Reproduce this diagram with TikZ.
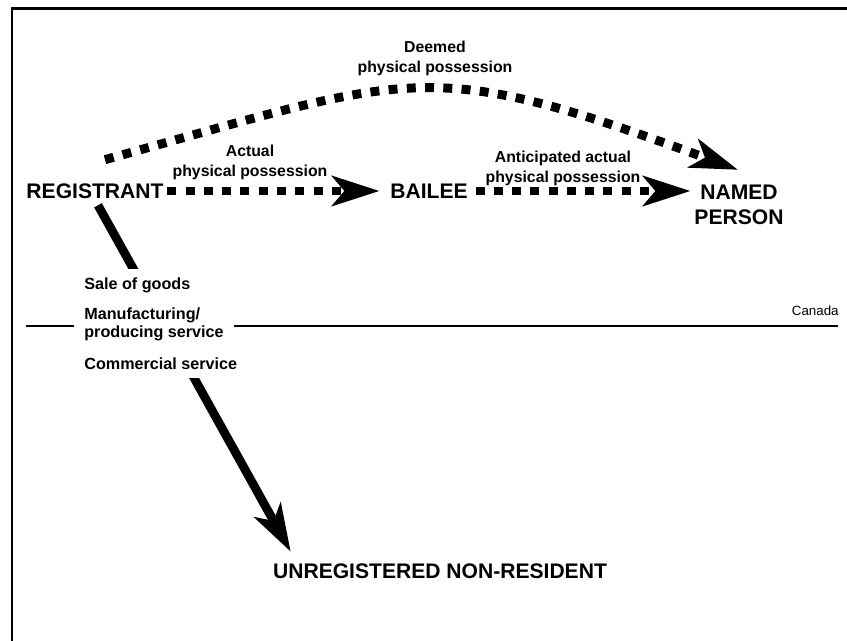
\documentclass[tikz,border=0pt]{standalone}
\usepackage{fontspec}
\setmainfont{Liberation Sans}
\usepackage{tikz}
\usetikzlibrary{arrows.meta,positioning,fit,backgrounds}

\begin{document}
\begin{tikzpicture}[
  x=0.02cm, y=-0.02cm,
  party/.style={font=\bfseries\fontsize{12}{14.2}\selectfont, align=center, inner sep=2pt},
  note/.style={font=\bfseries\fontsize{9}{11.4}\selectfont, align=center, inner sep=0pt},
  supply/.style={font=\bfseries\fontsize{9.2}{10.2}\selectfont, align=left, inner sep=0pt},
  possess/.style={line width=5.1pt, line cap=butt, dash pattern=on 5.1pt off 5.3pt,
    -{Stealth[length=27pt,width=17pt,inset=7pt]}},
  thrust/.style={line width=5pt, line cap=butt, -{Stealth[length=27pt,width=17pt,inset=7pt]}},
  border/.style={line width=0.6pt}
]
\useasboundingbox (0,0) rectangle (847,641);
\draw[line width=1.7pt] (12,641) -- (12,8.7) -- (847,8.7);

% parties
\node[party] (registrant) at (95,191) {REGISTRANT};
\node[party] (bailee) at (429,191) {BAILEE};
\node[party] (named) at (739,205) {NAMED\\PERSON};
\node[party] (unreg) at (440,571) {UNREGISTERED NON-RESIDENT};

% arrow labels
\node[note] (actual) at (250,162) {Actual\\physical possession};
\node[note] (deemed) at (435,58) {Deemed\\physical possession};
\node[note] (anticip) at (563,168) {Anticipated actual\\physical possession};

% supplies
\node[supply, anchor=base west] (sale) at (84,290) {Sale of goods};
\node[supply, anchor=west, inner xsep=5.7pt] (mfg) at (74,324) {Manufacturing/\\producing service};
\node[supply, anchor=base west] (comm) at (84,369) {Commercial service};

% Canada line
\coordinate (borderW) at (26,326);
\coordinate (borderE) at (838,326);
\draw[border] (borderW) -- (borderW -| mfg.west);
\draw[border] (mfg.east |- borderE) -- (borderE);
\node[font=\fontsize{7.6}{9}\selectfont, anchor=base east, inner sep=0pt] (canada) at (839,316) {Canada};

% possession arrows
\coordinate (deemedfrom) at ([shift={(10,-20)}]registrant.north);
\coordinate (deemedto) at ([shift={(-1,-11.5)}]named.north);
\draw[possess] (deemedfrom) .. controls (417,73) and (426,55) .. (deemedto);
\draw[possess, shorten >=3.9pt] (registrant.east) -- (bailee.west);
\draw[possess, shorten <=2.3pt] (bailee.east) -- (bailee.east -| named.west);

% supply to non-resident
\coordinate (regfoot) at ([shift={(3,3)}]registrant.south);
\coordinate (unregtip) at ([shift={(21.5,-8)}]unreg.north west);
\begin{scope}[on background layer]
\draw[thrust] (regfoot) -- (unregtip);
\node[fit=(sale)(mfg)(comm), fill=white, inner xsep=0pt, inner ysep=5pt] (goods) {};
\end{scope}
\end{tikzpicture}
\end{document}
